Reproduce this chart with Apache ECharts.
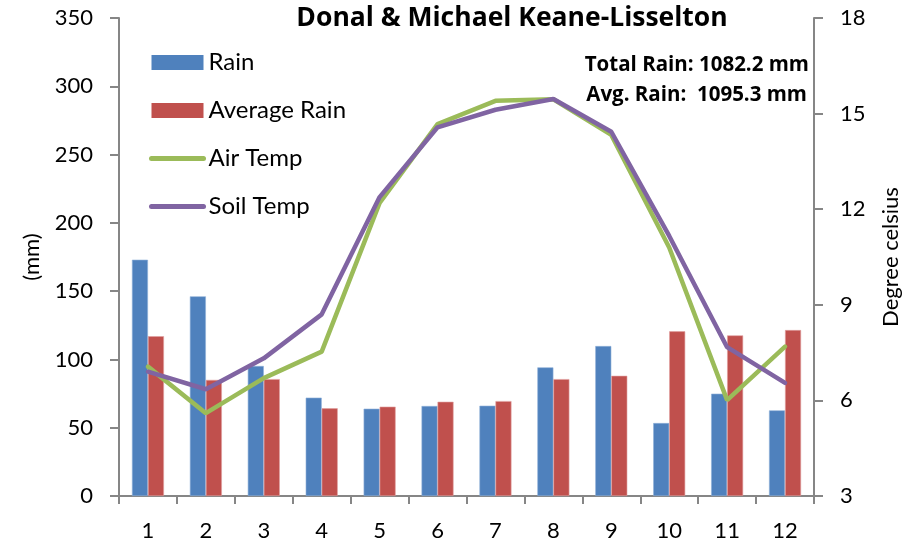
<!DOCTYPE html>
<html>
<head>
<meta charset="utf-8">
<script src="https://cdn.jsdelivr.net/npm/echarts@6/dist/echarts.min.js"></script>
<style>
  html, body { margin: 0; padding: 0; background: #fff; }
  #chart { width: 906px; height: 544px; }
</style>
</head>
<body>
<div id="chart"></div>
<script>
// monthly data
var months = ['1', '2', '3', '4', '5', '6', '7', '8', '9', '10', '11', '12'];
var rain = [173, 146.2, 95.2, 72, 63.9, 65.9, 66.1, 94.2, 109.8, 53.4, 74.9, 62.7];
var avgRain = [117, 85, 85.6, 64.2, 65.4, 69, 69.5, 85.6, 88, 120.6, 117.6, 121.5];
var airTemp = [7.06, 5.6, 6.7, 7.53, 12.2, 14.67, 15.4, 15.45, 14.33, 10.8, 6.01, 7.69];
var soilTemp = [6.9, 6.35, 7.32, 8.7, 12.38, 14.57, 15.12, 15.46, 14.43, 11.16, 7.67, 6.55];

var font = 'Lato';
var boldFont = 'Open Sans';
var axisGray = '#868686';

var chart = echarts.init(document.getElementById('chart'));

var option = {
  backgroundColor: '#fff',
  textStyle: { fontFamily: font },
  title: {
    text: 'Donal & Michael Keane-Lisselton',
    left: 507,
    textAlign: 'center',
    top: 0,
    textStyle: { fontSize: 26.5, fontWeight: 'bold', color: '#000', fontFamily: boldFont }
  },
  legend: {
    orient: 'vertical',
    left: 149,
    top: 50.5,
    padding: 0,
    itemWidth: 52,
    itemHeight: 15,
    itemGap: 24,
    textStyle: { fontSize: 24, color: '#000', fontFamily: font },
    data: [
      { name: 'Rain', icon: 'rect', itemStyle: { borderWidth: 0 } },
      { name: 'Average Rain', icon: 'rect', itemStyle: { borderWidth: 0 } },
      { name: 'Air Temp', itemStyle: { opacity: 0 }, lineStyle: { width: 5, cap: 'round' } },
      { name: 'Soil Temp', itemStyle: { opacity: 0 }, lineStyle: { width: 5, cap: 'round' } }
    ]
  },
  grid: { left: 119, right: 92, top: 18, bottom: 48, outerBoundsMode: 'none', containLabel: false },
  xAxis: {
    type: 'category',
    data: months,
    axisLine: { lineStyle: { color: axisGray, width: 2 } },
    axisTick: { show: true, length: 8, lineStyle: { color: axisGray, width: 2 } },
    axisLabel: { fontSize: 22, color: '#000', margin: 24 }
  },
  yAxis: [
    {
      type: 'value',
      min: 0, max: 350, interval: 50,
      name: '(mm)',
      nameLocation: 'middle',
      nameGap: 76,
      nameTextStyle: { fontSize: 22, color: '#000' },
      axisLine: { show: true, lineStyle: { color: axisGray, width: 2 } },
      axisTick: { show: true, length: 9, lineStyle: { color: axisGray, width: 2 } },
      axisLabel: { fontSize: 22, color: '#000', margin: 26 },
      splitLine: { show: false }
    },
    {
      type: 'value',
      min: 3, max: 18, interval: 3,
      name: 'Degree celsius',
      nameLocation: 'middle',
      nameGap: 66,
      nameRotate: 90,
      nameTextStyle: { fontSize: 22, color: '#000' },
      axisLine: { show: true, lineStyle: { color: axisGray, width: 2 } },
      axisTick: { show: true, length: 9, lineStyle: { color: axisGray, width: 2 } },
      axisLabel: { fontSize: 22, color: '#000', margin: 26 },
      splitLine: { show: false }
    }
  ],
  graphic: [
    {
      type: 'text', right: 97, top: 55,
      style: { text: 'Total Rain: 1082.2 mm', fontSize: 20.5, fontWeight: 'bold', fill: '#000', fontFamily: boldFont }
    },
    {
      type: 'text', right: 99, top: 85,
      style: { text: 'Avg. Rain:  1095.3 mm', fontSize: 20.5, fontWeight: 'bold', fill: '#000', fontFamily: boldFont }
    }
  ],
  series: [
    {
      name: 'Rain', type: 'bar', data: rain,
      barWidth: 16, barGap: '0%',
      itemStyle: { color: '#4F81BD', borderColor: '#8FB0D9', borderWidth: 0.6 }
    },
    {
      name: 'Average Rain', type: 'bar', data: avgRain,
      barWidth: 16, barGap: '0%',
      itemStyle: { color: '#C0504D', borderColor: '#E0A0A0', borderWidth: 0.6 }
    },
    {
      name: 'Air Temp', type: 'line', yAxisIndex: 1, data: airTemp,
      symbol: 'none',
      lineStyle: { color: '#9BBB59', width: 4.5, cap: 'round' },
      itemStyle: { color: '#9BBB59' }
    },
    {
      name: 'Soil Temp', type: 'line', yAxisIndex: 1, data: soilTemp,
      symbol: 'none',
      lineStyle: { color: '#8064A2', width: 4.5, cap: 'round' },
      itemStyle: { color: '#8064A2' }
    }
  ]
};

chart.setOption(option);
</script>
</body>
</html>
